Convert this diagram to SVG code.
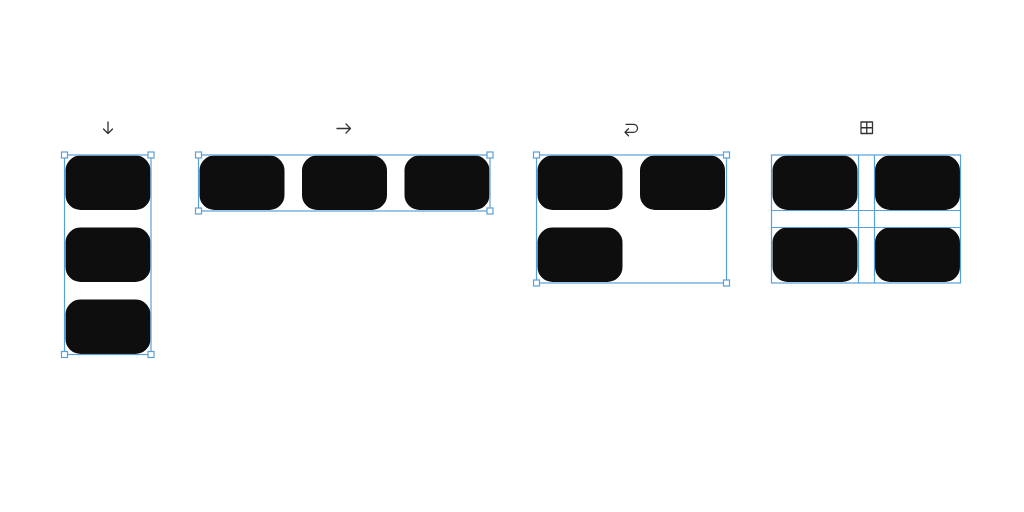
<svg xmlns="http://www.w3.org/2000/svg" width="1024" height="512" viewBox="0 0 1024 512">
<style>
.bg{fill:#ffffff}
.item{fill:#0e0e0e}
.frame{fill:none;stroke:#5a9fd6;stroke-width:1.2}
.handle{fill:#ffffff;stroke:#5a9fd6;stroke-width:1.2}
.icon{fill:none;stroke:#333333;stroke-width:1.3;stroke-linecap:round;stroke-linejoin:round}
</style>
<defs>
<rect id="card" width="85" height="54.5" rx="15" ry="15"/>
<rect id="h" x="-3" y="-3" width="6" height="6"/>
</defs>
<rect class="bg" x="0" y="0" width="1024" height="512"/>

<g id="vertical">
<path class="icon" d="M108 122V133.5M103.5 129L108 133.5L112.5 129"/>
<use href="#card" class="item" x="65.5" y="155.5"/>
<use href="#card" class="item" x="65.5" y="227.5"/>
<use href="#card" class="item" x="65.5" y="299.5"/>
<rect class="frame" x="64.5" y="155" width="86.5" height="199.5"/>
<use href="#h" class="handle" x="64.5" y="155"/>
<use href="#h" class="handle" x="151" y="155"/>
<use href="#h" class="handle" x="64.5" y="354.5"/>
<use href="#h" class="handle" x="151" y="354.5"/>
</g>

<g id="horizontal">
<path class="icon" d="M337 128.5H350.5M346 124L350.5 128.5L346 133"/>
<use href="#card" class="item" x="199.5" y="155.5"/>
<use href="#card" class="item" x="302" y="155.5"/>
<use href="#card" class="item" x="404.5" y="155.5"/>
<rect class="frame" x="198.5" y="155" width="291.5" height="56"/>
<use href="#h" class="handle" x="198.5" y="155"/>
<use href="#h" class="handle" x="490" y="155"/>
<use href="#h" class="handle" x="198.5" y="211"/>
<use href="#h" class="handle" x="490" y="211"/>
</g>

<g id="wrap">
<path class="icon" d="M626 124.3H633.5A4 4 0 0 1 633.5 132.3H625M628.5 128.8L625 132.3L628.5 135.8"/>
<use href="#card" class="item" x="537.5" y="155.5"/>
<use href="#card" class="item" x="640" y="155.5"/>
<use href="#card" class="item" x="537.5" y="227.5"/>
<rect class="frame" x="536.5" y="155" width="190" height="128"/>
<use href="#h" class="handle" x="536.5" y="155"/>
<use href="#h" class="handle" x="726.5" y="155"/>
<use href="#h" class="handle" x="536.5" y="283"/>
<use href="#h" class="handle" x="726.5" y="283"/>
</g>

<g id="grid">
<path class="icon" d="M861 122H872.5V133.5H861ZM866.75 122V133.5M861 127.75H872.5"/>
<use href="#card" class="item" x="772.5" y="155.5"/>
<use href="#card" class="item" x="875" y="155.5"/>
<use href="#card" class="item" x="772.5" y="227.5"/>
<use href="#card" class="item" x="875" y="227.5"/>
<rect class="frame" x="771.5" y="155" width="189" height="128"/>
<path class="frame" d="M858.5 155V283M874.5 155V283M771.5 210.5H960.5M771.5 227.5H960.5"/>
</g>
</svg>
